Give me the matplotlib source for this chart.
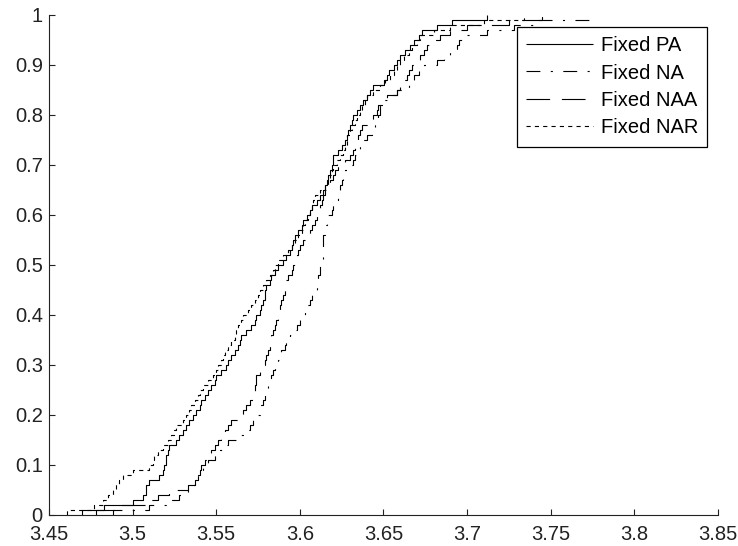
import numpy as np
import matplotlib
matplotlib.use("Agg")
import matplotlib.pyplot as plt

plt.rcParams['font.family'] = ['Liberation Sans', 'DejaVu Sans']
plt.rcParams['lines.scale_dashes'] = False

# sorted samples for each series (n = 100 each)
fixed_pa = [3.470, 3.483, 3.500, 3.506, 3.508, 3.508, 3.510, 3.516, 3.518, 3.519,
            3.520, 3.520, 3.521, 3.522, 3.526, 3.528, 3.530, 3.532, 3.534, 3.536,
            3.538, 3.540, 3.541, 3.543, 3.545, 3.547, 3.549, 3.550, 3.553, 3.556,
            3.557, 3.559, 3.561, 3.563, 3.564, 3.565, 3.568, 3.571, 3.573, 3.574,
            3.576, 3.577, 3.578, 3.579, 3.579, 3.580, 3.582, 3.583, 3.585, 3.587,
            3.590, 3.592, 3.594, 3.595, 3.596, 3.597, 3.599, 3.601, 3.602, 3.604,
            3.606, 3.607, 3.610, 3.612, 3.614, 3.615, 3.616, 3.617, 3.618, 3.619,
            3.620, 3.620, 3.623, 3.625, 3.627, 3.628, 3.629, 3.630, 3.631, 3.632,
            3.634, 3.636, 3.638, 3.640, 3.642, 3.644, 3.650, 3.652, 3.653, 3.656,
            3.658, 3.660, 3.663, 3.666, 3.668, 3.671, 3.673, 3.682, 3.691, 3.712]

fixed_na = [3.488, 3.510, 3.520, 3.528, 3.533, 3.535, 3.537, 3.539, 3.540, 3.542,
            3.545, 3.549, 3.552, 3.554, 3.557, 3.562, 3.567, 3.570, 3.572, 3.574,
            3.576, 3.577, 3.578, 3.579, 3.580, 3.581, 3.582, 3.583, 3.584, 3.585,
            3.587, 3.588, 3.589, 3.591, 3.592, 3.594, 3.596, 3.598, 3.600, 3.601,
            3.603, 3.604, 3.606, 3.607, 3.609, 3.610, 3.611, 3.611, 3.612, 3.612,
            3.613, 3.614, 3.614, 3.614, 3.614, 3.614, 3.615, 3.615, 3.616, 3.617,
            3.619, 3.620, 3.622, 3.623, 3.624, 3.624, 3.625, 3.626, 3.627, 3.630,
            3.632, 3.633, 3.635, 3.636, 3.638, 3.640, 3.643, 3.645, 3.646, 3.647,
            3.648, 3.648, 3.650, 3.652, 3.658, 3.665, 3.666, 3.668, 3.671, 3.674,
            3.682, 3.686, 3.690, 3.694, 3.695, 3.700, 3.712, 3.728, 3.740, 3.775]

fixed_naa = [3.478, 3.490, 3.508, 3.515, 3.522, 3.533, 3.537, 3.539, 3.540, 3.541,
             3.543, 3.545, 3.547, 3.549, 3.551, 3.553, 3.555, 3.557, 3.559, 3.563,
             3.566, 3.568, 3.570, 3.572, 3.573, 3.573, 3.574, 3.574, 3.576, 3.578,
             3.579, 3.580, 3.581, 3.582, 3.583, 3.583, 3.584, 3.585, 3.586, 3.587,
             3.588, 3.588, 3.589, 3.590, 3.591, 3.591, 3.592, 3.593, 3.595, 3.596,
             3.597, 3.598, 3.599, 3.600, 3.602, 3.604, 3.606, 3.607, 3.609, 3.610,
             3.611, 3.612, 3.613, 3.614, 3.615, 3.616, 3.618, 3.620, 3.621, 3.623,
             3.627, 3.630, 3.632, 3.633, 3.634, 3.635, 3.636, 3.637, 3.640, 3.644,
             3.646, 3.647, 3.650, 3.652, 3.658, 3.660, 3.662, 3.664, 3.665, 3.667,
             3.670, 3.672, 3.674, 3.676, 3.680, 3.684, 3.690, 3.700, 3.725, 3.745]

fixed_nar = [3.461, 3.477, 3.482, 3.485, 3.488, 3.490, 3.492, 3.494, 3.500, 3.510,
             3.512, 3.513, 3.515, 3.518, 3.521, 3.523, 3.525, 3.526, 3.530, 3.532,
             3.534, 3.535, 3.537, 3.539, 3.540, 3.542, 3.545, 3.548, 3.550, 3.551,
             3.553, 3.554, 3.555, 3.557, 3.559, 3.561, 3.562, 3.563, 3.565, 3.566,
             3.569, 3.571, 3.573, 3.575, 3.576, 3.578, 3.580, 3.582, 3.584, 3.585,
             3.587, 3.590, 3.593, 3.595, 3.597, 3.599, 3.601, 3.602, 3.603, 3.605,
             3.606, 3.607, 3.608, 3.609, 3.612, 3.615, 3.617, 3.618, 3.619, 3.620,
             3.622, 3.624, 3.626, 3.627, 3.628, 3.628, 3.630, 3.631, 3.633, 3.634,
             3.636, 3.637, 3.639, 3.640, 3.644, 3.648, 3.651, 3.654, 3.656, 3.658,
             3.660, 3.662, 3.665, 3.667, 3.670, 3.672, 3.680, 3.690, 3.710, 3.734]

labels = ["Fixed PA", "Fixed NA", "Fixed NAA", "Fixed NAR"]
dash_styles = [(0, ()), (0, (10, 7.5, 1.5, 7.5)), (0, (17, 8.5)), (0, (3, 3))]


def ecdf_xy(samples):
    # same shape as matlab cdfplot: vertical at the minimum, then stairs up to 1
    xs = np.sort(np.asarray(samples))
    n = len(xs)
    x = np.concatenate([[xs[0]], xs])
    y = np.concatenate([[0.0], np.arange(1, n + 1) / n])
    return x, y


fig = plt.figure(figsize=(7.38, 5.46), dpi=100)
ax = fig.add_axes([49 / 738, 31 / 546, 669 / 738, 500 / 546])

for data, lab, ls in zip([fixed_pa, fixed_na, fixed_naa, fixed_nar], labels, dash_styles):
    x, y = ecdf_xy(data)
    ax.step(x, y, where='post', color='black', linewidth=0.8, linestyle=ls, label=lab)

ax.set_xlim(3.45, 3.85)
ax.set_ylim(0, 1)
ax.set_xticks(np.arange(3.45, 3.851, 0.05))
ax.set_xticklabels(["3.45", "3.5", "3.55", "3.6", "3.65", "3.7", "3.75", "3.8", "3.85"])
ax.set_yticks(np.arange(0, 1.01, 0.1))
ax.set_yticklabels(["0", "0.1", "0.2", "0.3", "0.4", "0.5", "0.6", "0.7", "0.8", "0.9", "1"])
ax.tick_params(direction='in', length=4, width=0.8, labelsize=14.5, colors='#222222')
ax.tick_params(axis='x', pad=7)
ax.tick_params(axis='y', pad=4.5)
ax.spines['top'].set_visible(False)
ax.spines['right'].set_visible(False)
for s in ['left', 'bottom']:
    ax.spines[s].set_linewidth(0.8)
    ax.spines[s].set_color('#222222')

leg = ax.legend(loc='upper right', bbox_to_anchor=(707 / 738, 519 / 546),
                bbox_transform=fig.transFigure, fontsize=14.5, handlelength=3.3,
                handletextpad=0.4, labelspacing=0.42, borderpad=0.45,
                borderaxespad=0, fancybox=False, framealpha=1)
leg.get_frame().set_edgecolor('black')
leg.get_frame().set_linewidth(0.9)

fig.savefig("out.png", dpi=100)
